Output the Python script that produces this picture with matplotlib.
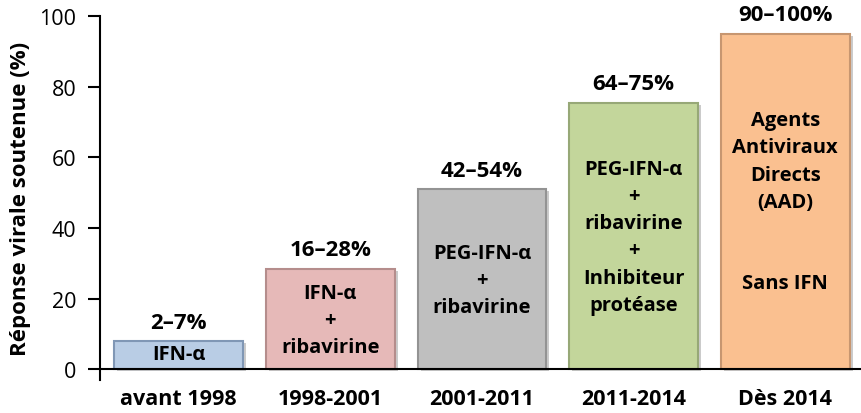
import matplotlib
matplotlib.use('Agg')
import matplotlib.pyplot as plt

periods = ['avant 1998', '1998-2001', '2001-2011', '2011-2014', 'Dès 2014']
heights = [8, 28.5, 51, 75.5, 95]
ranges = ['2–7%', '16–28%', '42–54%', '64–75%', '90–100%']
treatments = ['IFN-α',
              'IFN-α\n+\nribavirine',
              'PEG-IFN-α\n+\nribavirine',
              'PEG-IFN-α\n+\nribavirine\n+\nInhibiteur\nprotéase',
              'Agents\nAntiviraux\nDirects\n(AAD)\n\n\nSans IFN']
text_y = [4.2, 14, 25.2, 37.5, 47.4]
fills = ['#b9cde5', '#e6b9b8', '#bfbfbf', '#c3d69b', '#fac090']
edges = ['#8097b5', '#b58d8c', '#939393', '#97a877', '#c79670']

fam = ['Open Sans', 'DejaVu Sans']
plt.rcParams['font.family'] = fam

fig = plt.figure(figsize=(8.61, 4.14), dpi=100)
ax = fig.add_axes([0.116, 0.08, 0.884, 0.879])

x = range(len(periods))
# drop shadow
ax.bar([i + 0.02 for i in x], heights, width=0.85, bottom=-0.6, color='#999999', alpha=0.5, zorder=1)
ax.bar(x, heights, width=0.85, color=fills, edgecolor=edges, linewidth=1.5, zorder=2)

for i in x:
    ax.text(i, heights[i] + 2.4, ranges[i], ha='center', va='bottom', fontsize=16, fontweight='bold')
    ax.text(i, text_y[i], treatments[i], ha='center', va='center', fontsize=14.5,
            fontweight='bold', linespacing=1.48, zorder=3)

ax.set_xlim(-0.52, 4.5)
ax.set_ylim(-3, 100)
ax.axhline(0, color='black', linewidth=1.5, zorder=4)
ax.spines['top'].set_visible(False)
ax.spines['right'].set_visible(False)
ax.spines['bottom'].set_visible(False)
ax.spines['left'].set_linewidth(1.5)
ax.set_yticks([0, 20, 40, 60, 80, 100])
ax.tick_params(axis='y', labelsize=15.5, width=1.5, length=9, pad=8)
ax.tick_params(axis='x', length=0, pad=6)
ax.set_xticks(list(x))
ax.set_xticklabels(periods, fontsize=15.5, fontweight='bold')
ax.set_ylabel('Réponse virale soutenue (%)', fontsize=16, fontweight='bold', labelpad=6)

plt.savefig('out.png', dpi=100)
